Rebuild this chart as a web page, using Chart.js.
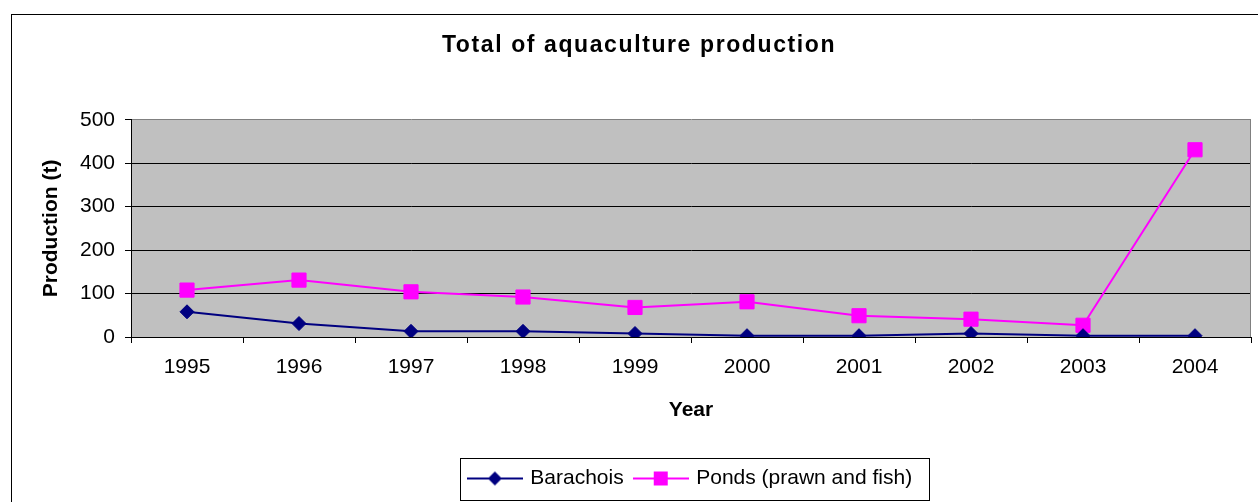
<!DOCTYPE html>
<html>
<head>
<meta charset="utf-8">
<title>Total of aquaculture production</title>
<script src="https://cdn.jsdelivr.net/npm/chart.js@4/dist/chart.umd.min.js"></script>
<style>
  html, body { margin: 0; padding: 0; background: #ffffff; overflow: hidden; }
  #wrap { position: relative; width: 1258px; height: 502px; }
  canvas { display: block; }
</style>
</head>
<body>
<div id="wrap"><canvas id="chart" width="1258" height="502"></canvas></div>
<script>
// Production data (tonnes) by year
const years = ['1995', '1996', '1997', '1998', '1999', '2000', '2001', '2002', '2003', '2004'];
const barachois = [58, 31, 13, 13, 8, 3, 3, 8, 3, 3];
const ponds = [108, 131, 104, 92, 68, 81, 49, 41, 27, 431];
const seriesNames = ['Barachois', 'Ponds (prawn and fish)'];
const yTicks = [0, 100, 200, 300, 400, 500];

const FONT = '"Liberation Sans", Arial, Helvetica, sans-serif';
const NAVY = '#000080';
const MAGENTA = '#ff00ff';

// Legend swatch: a short line with the series marker in the middle
function legendSwatch(color, shape) {
  const c = document.createElement('canvas');
  c.width = 56; c.height = 18;
  const g = c.getContext('2d');
  g.strokeStyle = color; g.lineWidth = 2;
  g.beginPath(); g.moveTo(0, 9); g.lineTo(56, 9); g.stroke();
  g.fillStyle = color;
  g.beginPath();
  if (shape === 'diamond') {
    g.moveTo(28, 2); g.lineTo(35, 9); g.lineTo(28, 16); g.lineTo(21, 9);
  } else {
    g.rect(21, 2, 14, 14);
  }
  g.closePath(); g.fill();
  return c;
}

// Grey plot background, outer frame, plot border and legend box;
// the chart title is drawn with wider letter spacing
const decorations = {
  id: 'decorations',
  afterInit(chart) {
    const block = chart.titleBlock;
    if (block && !block._spaced) {
      const draw = block.draw;
      block.draw = function (...args) {
        const ctx = this.ctx;
        ctx.save();
        ctx.letterSpacing = '1.6px';
        ctx.translate(-6, 0);
        draw.apply(this, args);
        ctx.restore();
      };
      block._spaced = true;
    }
  },
  beforeDraw(chart) {
    const { ctx, chartArea: a } = chart;
    ctx.save();
    ctx.fillStyle = '#c0c0c0';
    ctx.fillRect(a.left, a.top, a.right - a.left, a.bottom - a.top);
    ctx.strokeStyle = '#000';
    ctx.lineWidth = 1;
    ctx.strokeRect(11.5, 14.5, 1400, 600);
    ctx.restore();
  },
  afterDraw(chart) {
    const { ctx, chartArea: a, legend } = chart;
    ctx.save();
    ctx.strokeStyle = '#808080';
    ctx.lineWidth = 1;
    ctx.beginPath();
    ctx.moveTo(Math.round(a.right) - 0.5, a.top);
    ctx.lineTo(Math.round(a.right) - 0.5, a.bottom);
    ctx.stroke();
    if (legend && legend.legendHitBoxes.length) {
      const hb = legend.legendHitBoxes;
      const first = hb[0], last = hb[hb.length - 1];
      const l = Math.round(first.left - 10) + 0.5;
      const r = Math.round(last.left + last.width + 17) + 0.5;
      const t = Math.round(first.top - 10) + 0.5;
      const b = Math.round(first.top + first.height + 11) + 0.5;
      ctx.strokeStyle = '#000';
      ctx.strokeRect(l, t, r - l, b - t);
    }
    ctx.restore();
  }
};

new Chart(document.getElementById('chart'), {
  type: 'line',
  data: {
    labels: years,
    datasets: [
      {
        label: seriesNames[0],
        data: barachois,
        borderColor: NAVY,
        backgroundColor: NAVY,
        borderWidth: 2,
        pointStyle: 'rectRot',
        pointRadius: 7,
        pointHoverRadius: 7,
        pointBorderWidth: 1,
        tension: 0
      },
      {
        label: seriesNames[1],
        data: ponds,
        borderColor: MAGENTA,
        backgroundColor: MAGENTA,
        borderWidth: 2,
        pointStyle: 'rect',
        pointRadius: 10,
        pointHoverRadius: 10,
        pointBorderWidth: 1,
        tension: 0
      }
    ]
  },
  options: {
    responsive: false,
    animation: false,
    events: [],
    layout: { autoPadding: false, padding: { left: 39, right: 7, top: 0, bottom: 3 } },
    plugins: {
      title: {
        display: true,
        text: 'Total of aquaculture production',
        color: '#000',
        font: { family: FONT, size: 23, weight: 'bold' },
        padding: { top: 32, bottom: 60.2 }
      },
      legend: {
        display: true,
        position: 'bottom',
        fullSize: false,
        labels: {
          color: '#000',
          font: { family: FONT, size: 21 },
          usePointStyle: true,
          pointStyleWidth: 50,
          padding: 12,
          generateLabels(chart) {
            return chart.data.datasets.map((ds, i) => ({
              text: ds.label,
              pointStyle: legendSwatch(ds.borderColor, i === 0 ? 'diamond' : 'square'),
              fillStyle: ds.borderColor,
              strokeStyle: ds.borderColor,
              lineWidth: 0,
              hidden: false,
              datasetIndex: i,
              fontColor: '#000'
            }));
          }
        }
      },
      tooltip: { enabled: false }
    },
    scales: {
      x: {
        offset: true,
        afterFit(scale) { scale.paddingLeft = 0; scale.paddingRight = 0; },
        grid: {
          offset: true,
          drawOnChartArea: false,
          drawTicks: true,
          tickLength: 6,
          tickColor: '#000'
        },
        border: { display: true, color: '#000', width: 1 },
        ticks: {
          color: '#000',
          font: { family: FONT, size: 21 },
          padding: 12,
          maxRotation: 0,
          autoSkip: false
        },
        title: {
          display: true,
          text: 'Year',
          color: '#000',
          font: { family: FONT, size: 21, weight: 'bold' },
          padding: { top: 5.2, bottom: 33.4 }
        }
      },
      y: {
        min: yTicks[0],
        max: yTicks[yTicks.length - 1],
        afterFit(scale) { scale.width = 92; },
        afterBuildTicks(scale) { scale.ticks = yTicks.map(v => ({ value: v })); },
        grid: {
          color: ctx => (ctx.tick && ctx.tick.value === 500 ? '#808080' : '#000'),
          tickColor: '#000',
          tickLength: 6,
          drawTicks: true
        },
        border: { display: true, color: '#000', width: 1 },
        ticks: {
          color: '#000',
          font: { family: FONT, size: 21 },
          padding: 10
        },
        title: {
          display: true,
          text: 'Production (t)',
          color: '#000',
          font: { family: FONT, size: 21, weight: 'bold' },
          padding: { top: 0, bottom: 0 }
        }
      }
    }
  },
  plugins: [decorations]
});
</script>
</body>
</html>
